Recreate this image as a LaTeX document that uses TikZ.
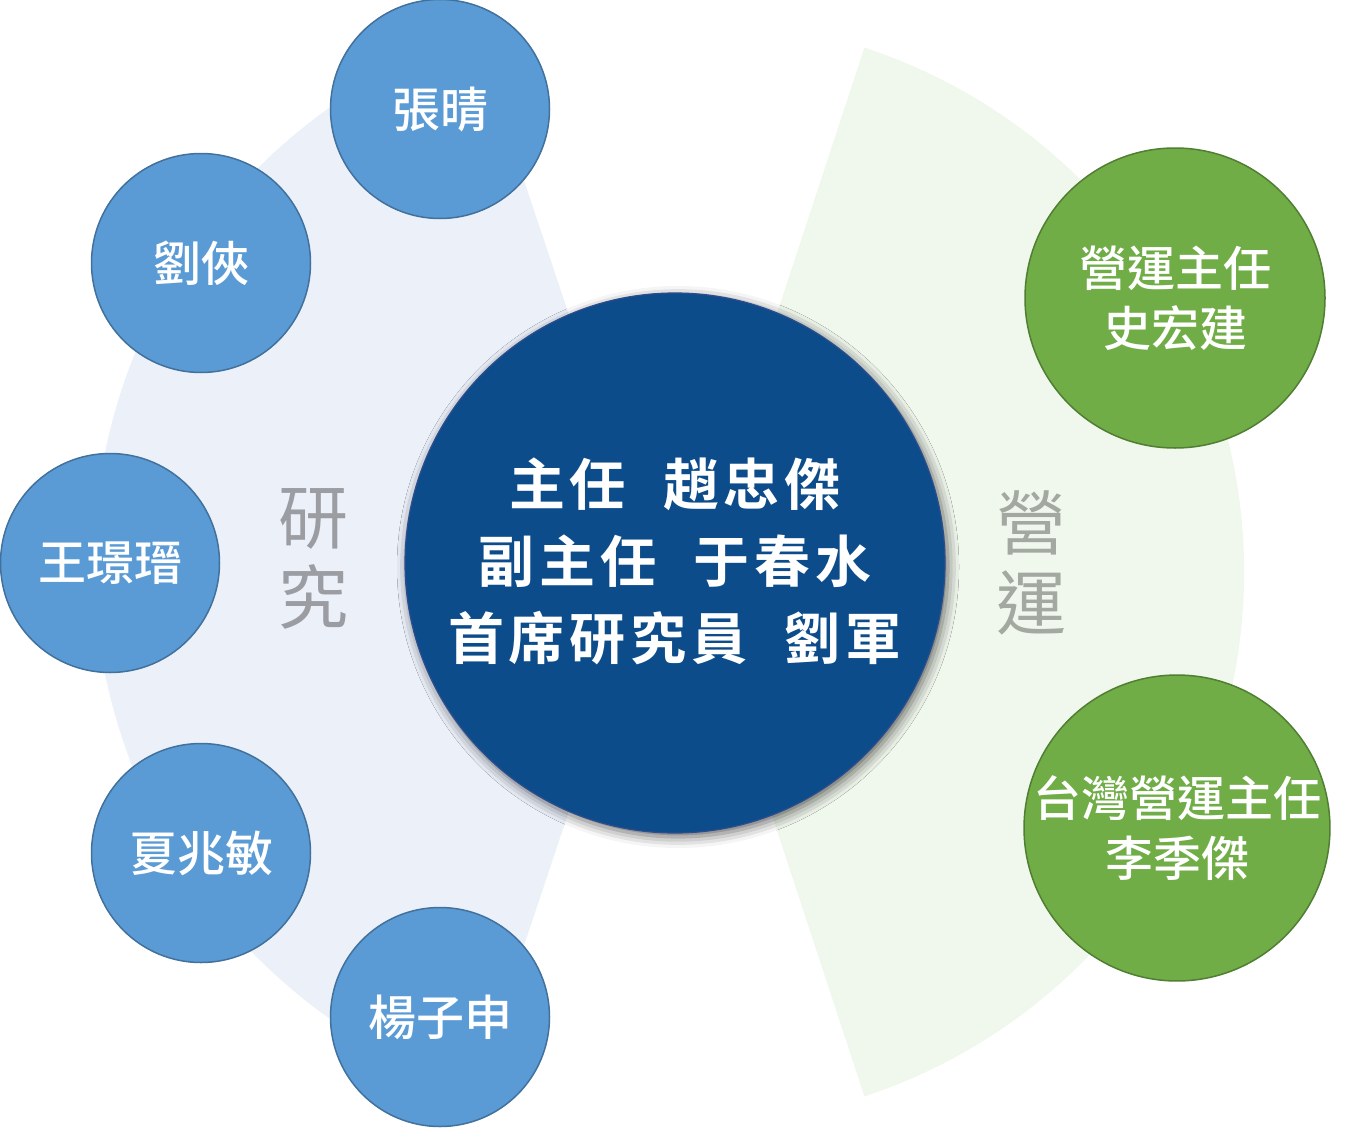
\documentclass[tikz,border=0pt]{standalone}
\usepackage{fontspec}
\usetikzlibrary{shadows.blur}
\newfontfamily\cjk{Noto Sans CJK TC}
\newfontfamily\cjkmed{Noto Sans CJK TC Medium}
\newfontfamily\cjkbold{Noto Sans CJK TC Bold}
\definecolor{lav}{HTML}{EBF0F9}
\definecolor{lgreen}{HTML}{F0F7EC}
\definecolor{bfill}{HTML}{5B9BD5}
\definecolor{bline}{HTML}{41719C}
\definecolor{gfill}{HTML}{70AD47}
\definecolor{gline}{HTML}{507E32}
\definecolor{navy}{HTML}{0C4C8A}
\definecolor{navyline}{HTML}{2E4D8C}
\definecolor{labgray}{HTML}{9B9DA3}
\definecolor{labgreen}{HTML}{A3A8A0}
\begin{document}
\begin{tikzpicture}[x=1pt,y=-1pt,
  person/.style={circle, draw=bline, fill=bfill, line width=1.5pt, minimum size=219pt, inner sep=0pt, text=white, font=\cjkmed\fontsize{48}{56}\selectfont},
  ops/.style={circle, draw=gline, fill=gfill, line width=1.5pt, minimum size=300pt, inner sep=0pt, text=white, align=center, font=\cjkmed\fontsize{48}{60}\selectfont},
  chief/.style={circle, draw=navyline, fill=navy, line width=1.2pt, minimum size=540pt, inner sep=0pt, text=white, align=center, font=\cjkbold\fontsize{56}{77}\selectfont,
    blur shadow={shadow xshift=3pt, shadow yshift=-4pt, shadow blur radius=11pt, shadow opacity=60}},
  vlabel/.style={align=center, inner sep=0pt, font=\cjk\fontsize{70}{80}\selectfont}
]
\useasboundingbox (0,0) rectangle (1357,1127);
% sectors
\fill[lav] (652,563) -- ++(108.5:558) arc[start angle=108.5, end angle=251.5, radius=558] -- cycle;
\fill[lgreen] (692,572) -- ++(-71.8:552) arc[start angle=-71.8, end angle=71.8, radius=552] -- cycle;
% vertical labels
\node[vlabel, text=labgray] (yanjiu) at (313,559) {研\\究};
\node[vlabel, text=labgreen] (yingyun) at (1031,563) {營\\運};
% centre
\node[chief] (center) at (675,563) {};
\node[text=white, align=center, inner sep=0pt, font=\cjkbold\fontsize{56}{77}\selectfont] (centertext) at (675,561)
  {主\kern5pt任\hspace{37pt}趙\kern5pt忠\kern5pt傑\\
   副\kern5pt主\kern5pt任\hspace{37pt}于\kern5pt春\kern5pt水\\
   首\kern5pt席\kern5pt研\kern5pt究\kern5pt員\hspace{37pt}劉\kern5pt軍};
% research staff
\node[person] (p1) at (440,109) {張晴};
\node[person] (p2) at (201,263) {劉俠};
\node[person] (p3) at (110,563) {王璟瑨};
\node[person] (p4) at (201,853) {夏兆敏};
\node[person] (p5) at (440,1017) {楊子申};
% operations
\node[ops] (o1) at (1175,298) {營運主任\\史宏建};
\node[ops] (o2) at (1177,828) {台灣營運主任\\李季傑};
\end{tikzpicture}
\end{document}
